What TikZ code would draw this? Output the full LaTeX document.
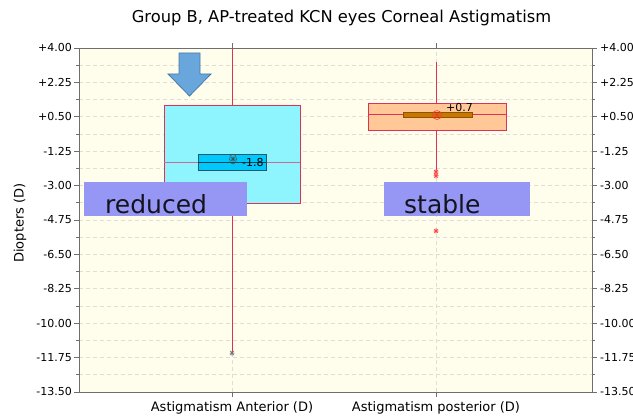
\documentclass[tikz,border=0pt]{standalone}
\usepackage{fontspec}
\setmainfont{DejaVu Sans}
\usetikzlibrary{positioning}

\definecolor{plotbg}{RGB}{255,253,235}
\definecolor{gridgray}{RGB}{222,222,212}
\definecolor{axisgray}{RGB}{110,110,110}
\definecolor{whiskred}{RGB}{220,50,90}
\definecolor{antfill}{RGB}{142,245,255}
\definecolor{antmed}{RGB}{200,110,150}
\definecolor{cifill}{RGB}{0,200,250}
\definecolor{ciborder}{RGB}{30,90,110}
\definecolor{postfill}{RGB}{255,200,150}
\definecolor{postbar}{RGB}{200,120,0}
\definecolor{notefill}{RGB}{150,150,245}
\definecolor{arrowfill}{RGB}{104,166,220}
\definecolor{arrowdraw}{RGB}{72,122,170}

\newcommand\outmark[2]{%
  \draw [#2,line width=0.6pt] (#1) ++(-2.5pt,0) -- ++(5pt,0)
        (#1) ++(0,-2.5pt) -- ++(0,5pt)
        (#1) ++(-2pt,-2pt) -- ++(4pt,4pt)
        (#1) ++(-2pt,2pt) -- ++(4pt,-4pt);}

\begin{document}
\begin{tikzpicture}[x=1pt,y=1pt,
                    every node/.style={inner sep=0pt},
                    grid line/.style={draw=gridgray,dash pattern=on 4pt off 3pt,line width=0.7pt},
                    axis line/.style={draw=axisgray,line width=0.8pt},
                    whisker/.style={draw=whiskred,line width=0.8pt},
                    tick label/.style={font=\fontsize{11}{13}\selectfont},
                    axis title/.style={font=\fontsize{13}{15}\selectfont},
                    note box/.style={fill=notefill,minimum height=34pt},
                    note text/.style={font=\fontsize{25}{30}\selectfont,text={rgb,255:red,20;green,20;blue,30}}
]
\useasboundingbox (0,0) rectangle (633,419);

\node (title) at (341.5,401) {\fontsize{16.3}{19}\selectfont Group B, AP-treated KCN eyes Corneal Astigmatism};
\node [rotate=90,axis title] (ylab) at (20,196) {Diopters (D)};
\node [axis title] (cat1) at (232,11) {Astigmatism Anterior (D)};
\node [axis title] (cat2) at (436,11) {Astigmatism posterior (D)};

\begin{scope}[yshift=292.37pt,y=19.657pt]
\fill [plotbg] (79,-13.5) rectangle (592,4);
\foreach \i in {1,...,19}
    \draw [grid line] (79,{-13.5+0.875*\i}) -- (592,{-13.5+0.875*\i});
\draw [grid line] (232,-13.5) -- (232,4);
\draw [grid line] (436,-13.5) -- (436,4);
\foreach \i in {1,3,...,19} {
    \draw [axis line] (76,{-13.5+0.875*\i}) -- (79,{-13.5+0.875*\i});
    \draw [axis line] (592,{-13.5+0.875*\i}) -- (595,{-13.5+0.875*\i});
}
\foreach \v/\t in {4/+4.00,2.25/+2.25,0.5/+0.50,-1.25/-1.25,-3/-3.00,-4.75/-4.75,-6.5/-6.50,-8.25/-8.25,-10/-10.00,-11.75/-11.75,-13.5/-13.50} {
    \draw [axis line] (74,\v) -- (79,\v);
    \draw [axis line] (592,\v) -- (597,\v);
    \node [tick label,anchor=east] at (72,\v) {\t};
    \node [tick label,anchor=west] at (600,\v) {\t};
}
\foreach \x in {232,436} {
    \draw [axis line] (\x,4) -- ++(0,5pt);
    \draw [axis line] (\x,-13.5) -- ++(0,-5pt);
}
\draw [axis line] (79,-13.5) rectangle (592,4);
%
\coordinate (antHi) at (232,4);
\coordinate (antQ3) at (232,1.1);
\coordinate (antQ1) at (232,-3.885);
\coordinate (antLo) at (232,-11.52);
\draw [whisker] (antQ3) -- (antHi);
\draw [whisker] (antQ1) -- (antLo);
\draw [whisker,fill=antfill] (164,1.1) rectangle (300,-3.885);
\draw [draw=antmed,line width=1pt] (164,-1.8) -- (300,-1.8);
\draw [draw=ciborder,fill=cifill,line width=0.7pt] (198,-1.39) rectangle (266,-2.2);
\draw [draw=ciborder!70!black,line width=0.6pt] (198,-1.8) -- (266,-1.8);
\draw [black!70,line width=0.5pt] (233,-1.65) ellipse (3.5pt and 5pt);
\outmark{233,-1.65}{black!70}
\node [anchor=west,tick label] (antMean) at (242,-1.85) {-1.8};
\outmark{antLo}{black!55}
%
\coordinate (postHi) at (436,3.29);
\coordinate (postQ3) at (436,1.202);
\coordinate (postQ1) at (436,-0.172);
\coordinate (postLo) at (436,-2.2);
\draw [whisker] (postQ3) -- (postHi);
\draw [whisker] (postQ1) -- (postLo);
\draw [whisker,fill=postfill] (368,1.202) rectangle (506,-0.172);
\draw [whisker] (368,0.642) -- (506,0.642);
\draw [draw=postbar!70!black,fill=postbar,line width=0.5pt] (403,0.744) rectangle (472,0.49);
\draw [red!80,line width=0.6pt] (437,0.59) circle (4.5pt);
\outmark{437,0.59}{red!80}
\node [anchor=west,tick label] (postMean) at (446,0.95) {+0.7};
\outmark{436,-2.3}{red!75}
\outmark{436,-2.5}{red!75}
\outmark{436,-5.31}{red!75}
\end{scope}
%
\node [note box,minimum width=163pt] (reducedBox) at (165.5,220) {};
\node [note text,anchor=base west] (reduced) at (105,205) {reduced};
\node [note box,minimum width=146pt] (stableBox) at (457,220) {};
\node [note text,anchor=base west] (stable) at (404,205) {stable};
%
\draw [fill=arrowfill,draw=arrowdraw,line width=0.8pt]
    (179,366) -- (200,366) -- (200,345) -- (211,345)
    -- (189.5,323) -- (168,345) -- (179,345) -- cycle;

\end{tikzpicture}
\end{document}
